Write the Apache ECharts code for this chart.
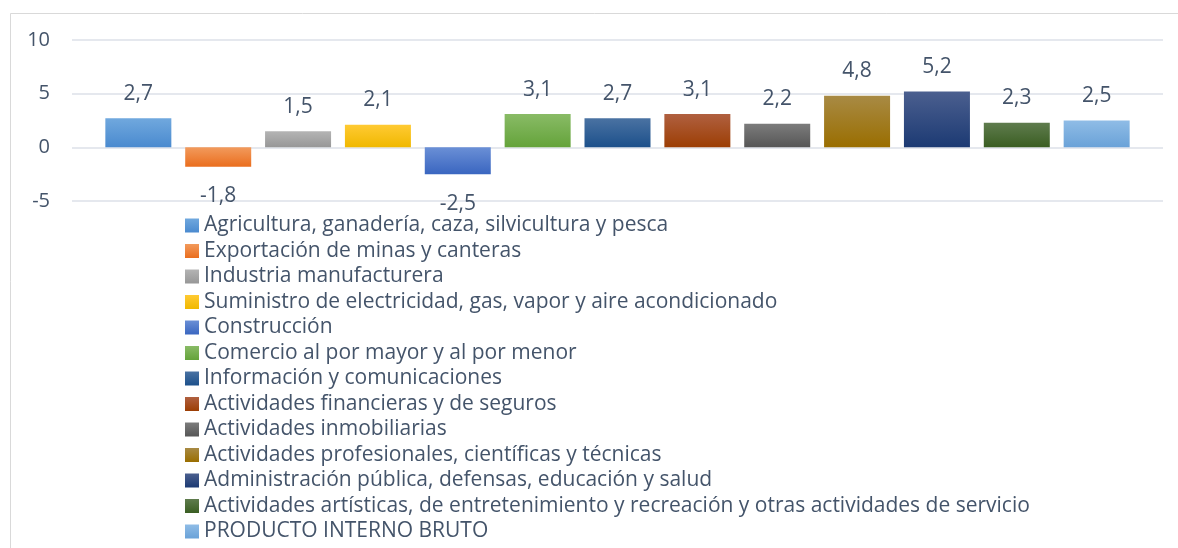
<!DOCTYPE html>
<html>
<head>
<meta charset="utf-8">
<script src="https://cdn.jsdelivr.net/npm/echarts@6/dist/echarts.min.js"></script>
<style>
	html, body { margin: 0; padding: 0; background: #fff; }
	#chart { width: 1178px; height: 548px; }
</style>
</head>
<body>
<div id="chart"></div>
<script>
	//sectores (una serie por sector)
	var sectores = [
		'Agricultura, ganadería, caza, silvicultura y pesca',
		'Exportación de minas y canteras',
		'Industria manufacturera',
		'Suministro de electricidad, gas, vapor y aire acondicionado',
		'Construcción',
		'Comercio al por mayor y al por menor',
		'Información y comunicaciones',
		'Actividades financieras y de seguros',
		'Actividades inmobiliarias',
		'Actividades profesionales, científicas y técnicas',
		'Administración pública, defensas, educación y salud',
		'Actividades artísticas, de entretenimiento y recreación y otras actividades de servicio',
		'PRODUCTO INTERNO BRUTO'
	];
	//variación %
	var valores = [2.7, -1.8, 1.5, 2.1, -2.5, 3.1, 2.7, 3.1, 2.2, 4.8, 5.2, 2.3, 2.5];
	//eje y
	var yMin = -5, yMax = 10, yPaso = 5;

	//colores degradado (arriba, abajo)
	var coloresArriba = ['#70a8de', '#f29a5c', '#b4b4b4', '#ffca33', '#6a8fd6', '#89bb66', '#4a72a2', '#b06040', '#7c7c7c', '#a88a44', '#4b5f8f', '#5f7c4e', '#8fbce6'];
	var coloresAbajo = ['#4a8acf', '#ea6e1e', '#979797', '#f0b800', '#3a66c0', '#64a33a', '#1c508b', '#9c3e04', '#565656', '#9a6e00', '#1c3a73', '#3a5e22', '#6aa2d8'];

	var FONT = '"Open Sans"';
	var TXT = '#44546a';

	var series = [];
	for (var i = 0; i < sectores.length; i++) {
		var v = valores[i];
		series.push({
			name: sectores[i],
			type: 'bar',
			barWidth: 66,
			barGap: '21%',
			itemStyle: {
				color: new echarts.graphic.LinearGradient(0, 0, 0, 1, [
					{ offset: 0, color: coloresArriba[i] },
					{ offset: 1, color: coloresAbajo[i] }
				])
			},
			label: {
				show: true,
				position: v < 0 ? 'bottom' : 'top',
				distance: v < 0 ? 19 : 14,
				color: TXT,
				fontFamily: FONT,
				fontSize: 21,
				formatter: function (p) { return String(p.value).replace('.', ','); }
			},
			data: [v]
		});
	}

	var option = {
		animation: false,
		backgroundColor: '#fff',
		textStyle: { fontFamily: FONT },
		graphic: [{
			type: 'rect',
			left: 8, top: 11,
			shape: { width: 1300, height: 700 },
			style: { fill: 'none', stroke: '#d9d9d9', lineWidth: 1 },
			silent: true
		}],
		grid: { left: 72, right: 15, top: 40, bottom: 347, containLabel: false },
		legend: {
			orient: 'vertical',
			left: 185,
			top: 215,
			height: 420,
			padding: 0,
			itemWidth: 14,
			itemHeight: 14,
			itemGap: 4.5,
			icon: 'rect',
			textStyle: { color: TXT, fontFamily: FONT, fontSize: 21, lineHeight: 21 },
			data: sectores
		},
		xAxis: {
			type: 'category',
			data: [''],
			axisLine: { show: false },
			axisTick: { show: false },
			axisLabel: { show: false }
		},
		yAxis: {
			type: 'value',
			min: yMin,
			max: yMax,
			interval: yPaso,
			axisLine: { show: false },
			axisTick: { show: false },
			axisLabel: { color: TXT, fontFamily: FONT, fontSize: 20, margin: 22 },
			splitLine: { lineStyle: { color: '#dde1e8', width: 1.5 } }
		},
		series: series
	};

	var myChart = echarts.init(document.getElementById('chart'));
	myChart.setOption(option);
</script>
</body>
</html>
